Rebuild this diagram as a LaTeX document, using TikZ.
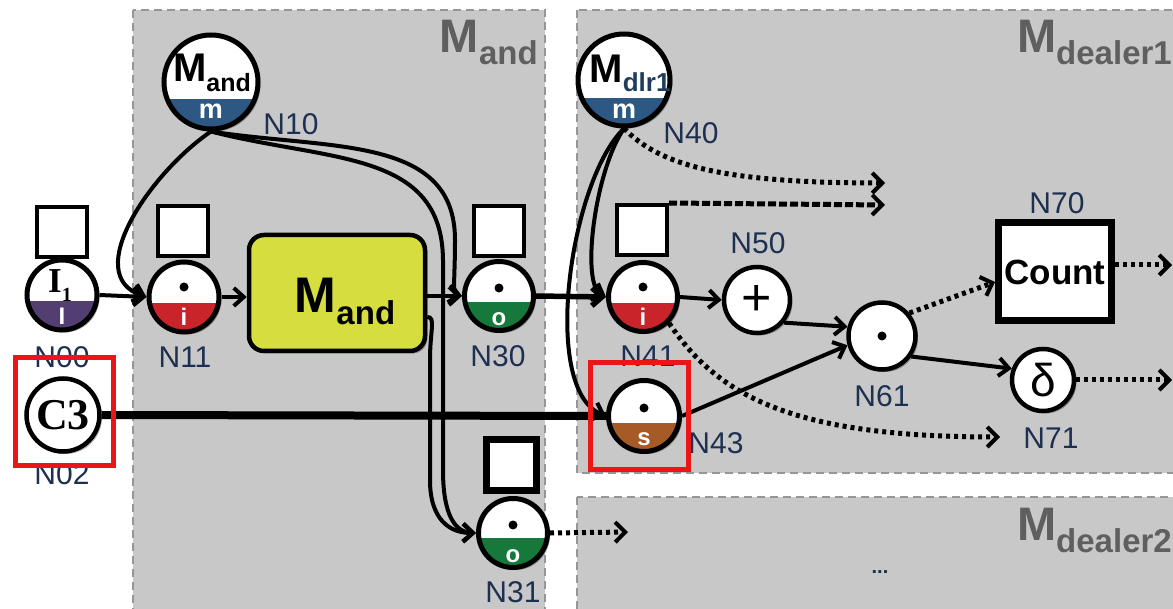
\documentclass[tikz,border=0pt]{standalone}
\usepackage{fontspec}
\setmainfont{Liberation Sans}
\newfontfamily\serifb{Liberation Serif}
\usetikzlibrary{arrows.meta,shadows}
\definecolor{regfill}{RGB}{200,200,200}
\definecolor{regline}{RGB}{150,150,150}
\definecolor{labc}{RGB}{30,48,82}
\definecolor{regtext}{RGB}{95,95,95}
\definecolor{cpurple}{RGB}{82,62,112}
\definecolor{cred}{RGB}{200,36,42}
\definecolor{cblue}{RGB}{46,88,132}
\definecolor{cgreen}{RGB}{22,120,58}
\definecolor{cbrown}{RGB}{166,90,38}
\definecolor{cyellow}{RGB}{213,222,62}
\definecolor{hired}{RGB}{235,20,25}
\newcommand\fs[1]{\fontsize{#1}{#1}\selectfont}
\newcommand\hcirc[7]{%
  \node[hc=#3, path picture={\fill[#4] ([yshift=-#5]path picture bounding box.west) rectangle (path picture bounding box.south east);}] (#1) at #2 {};
  \node[btm] (#1b) at ([yshift=-#7]#1.center) {#6};
}
\tikzset{
  shd/.style={drop shadow={shadow xshift=2.5pt, shadow yshift=-2.5pt, opacity=0.3, fill=black}},
  region/.style={draw=regline, fill=regfill, line width=2pt, dash pattern=on 8pt off 5pt},
  sqbox/.style={draw, line width=4pt, fill=white, minimum size=50pt, inner sep=0pt},
  hc/.style={circle, draw, line width=5pt, fill=white, inner sep=0pt, minimum size=#1, shd},
  wc/.style={circle, draw, line width=4.5pt, fill=white, inner sep=0pt, minimum size=#1, shd},
  btm/.style={text=white, font=\bfseries\fs{24}, inner sep=0pt},
  dotn/.style={circle, fill=black, inner sep=0pt, minimum size=9pt},
  nlab/.style={text=labc, font=\fs{30}, inner sep=0pt},
  reglab/.style={text=regtext, font=\bfseries, inner sep=0pt, anchor=base east},
  conn/.style={line width=4pt, -{Straight Barb[length=10pt,width=18pt]}},
  dotc/.style={line width=5pt, dash pattern=on 4pt off 4pt, -{Straight Barb[length=10pt,width=20pt,line width=4pt]}},
  dashc/.style={line width=5pt, dash pattern=on 8pt off 3pt, -{Straight Barb[length=10pt,width=20pt,line width=4pt]}},
  redbox/.style={draw=hired, line width=5pt},
}
\begin{document}
\begin{tikzpicture}[x=1pt,y=-1pt]
\useasboundingbox[fill=white] (0,0) rectangle (1173,609);
% regions
\path[region] (133,10) rectangle (545,620);
\path[region] (577,10) rectangle (1185,473);
\path[region] (577,497) rectangle (1185,620);
\node[reglab] (Lmand) at (538,53) {\fs{47}M\raisebox{-12pt}{\fs{33}and}};
\node[reglab] (Ld1) at (1172,53) {\fs{47}M\raisebox{-12pt}{\fs{33}dealer1}};
\node[reglab] (Ld2) at (1172,540) {\fs{47}M\raisebox{-12pt}{\fs{33}dealer2}};
\node[text=labc, font=\bfseries\fs{20}, inner sep=0pt] (dots) at (880,572) {...};

% squares
\node[sqbox] (N00s) at (62,232) {};
\node[sqbox] (N11s) at (183,231) {};
\node[sqbox] (N30s) at (499,231) {};
\node[sqbox] (N41s) at (642,230) {};
\node[sqbox, line width=7pt, minimum size=50pt] (N31s) at (511,465) {};

% half circles
\hcirc{N00}{(62,295)}{70pt}{cpurple}{6pt}{\fs{24}I}{21pt}
\hcirc{N11}{(184,297)}{70pt}{cred}{6pt}{i}{20pt}
\hcirc{N10}{(211,82)}{94pt}{cblue}{17pt}{\fs{27}m}{29pt}
\hcirc{N30}{(499,296)}{69pt}{cgreen}{6pt}{o}{23pt}
\hcirc{N31}{(513,533)}{69pt}{cgreen}{5pt}{o}{23pt}
\hcirc{N40}{(624,80)}{92pt}{cblue}{18pt}{\fs{27}m}{31pt}
\hcirc{N41}{(643,297)}{69pt}{cred}{6pt}{i}{20pt}
\hcirc{N43}{(644,416)}{71pt}{cbrown}{7pt}{s}{23pt}

% top contents of half circles
\node[anchor=base west, inner sep=0pt, font=\serifb\bfseries] (N00t) at (48,293) {\fs{35}I\raisebox{-9pt}{\fs{20}1}};
\node[dotn] (N11t) at ([yshift=10pt]N11.center) {};
\node[dotn] (N30t) at ([yshift=8pt]N30.center) {};
\node[dotn] (N31t) at ([yshift=8pt]N31.center) {};
\node[dotn] (N41t) at ([yshift=10pt]N41.center) {};
\node[dotn] (N43t) at ([yshift=8pt]N43.center) {};
\node[anchor=base, inner sep=0pt, font=\bfseries] (N10t) at (212,82) {\fs{40}M\raisebox{-10pt}{\fs{25}and}};
\node[anchor=base, inner sep=0pt, font=\bfseries] (N40t) at (630,83) {\fs{40}M\raisebox{-9pt}{\fs{26}\textcolor{cblue!70!black}{dlr1}}};

% plain circles
\node[wc=73pt, font=\serifb\bfseries\fs{44}] (N02) at (63,415) {C3};
\node[wc=66pt, font=\fs{52}] (N50) at (757,300) {+};
\node[wc=67pt] (N61) at (882,336) {};
\node[dotn] (N61t) at (N61.center) {};
\node[wc=62pt, font=\fs{46}] (N71) at (1043,380) {δ};
\node[draw, line width=7pt, fill=white, minimum width=113pt, minimum height=98pt, inner sep=0pt, font=\bfseries\fs{35}, shd] (N70) at (1055,272) {Count};

% yellow box
\node[draw, line width=4.5pt, rounded corners=15pt, fill=cyellow, minimum width=176pt, minimum height=116pt, shd] (Mand) at (337,293) {};
\node[anchor=base, inner sep=0pt, font=\bfseries] (Mandt) at (345,313) {\fs{50}M\raisebox{-12pt}{\fs{33}and}};

% labels
\node[nlab] (N00l) at (62,357) {N00};
\node[nlab] (N11l) at (185,357) {N11};
\node[nlab] (N10l) at (291,124) {N10};
\node[nlab] (N30l) at (498,356) {N30};
\node[nlab] (N31l) at (513,592) {N31};
\node[nlab] (N40l) at (691,133) {N40};
\node[nlab] (N41l) at (648,356) {N41};
\node[nlab] (N43l) at (716,443) {N43};
\node[nlab] (N50l) at (758,243) {N50};
\node[nlab] (N61l) at (882,396) {N61};
\node[nlab] (N70l) at (1057,203) {N70};
\node[nlab] (N71l) at (1051,438) {N71};
\node[nlab] (N02l) at (62,474) {N02};

% free ends
\coordinate (e40) at (885,183);
\coordinate (e41s) at (885,205);
\coordinate (e41) at (1000,437);
\coordinate (e70) at (1172,265);
\coordinate (e71) at (1172,380);
\coordinate (e31) at (628,532);

% solid connectors
\draw[conn] (N00.east) -- (N11.west);
\draw[conn] (N11.east) -- (N11.east -| Mand.west);
\draw[conn] (Mand.east |- N30.west) -- (N30.west);
\draw[conn, line width=5.5pt] (N30.east) -- (N41.west);
\draw[conn] (N41.east) -- (N50.west);
\draw[conn] (N50.-40) -- (N61.165);
\draw[conn] (N43.east) -- (N61.195);
\draw[conn] (N61.-35) -- (N71.160);
\draw[line width=8pt] (N02.east) -- (N43.west);
\draw[conn] (N10.south) .. controls (151,172) and (80,275) .. (N11.west);
\draw[conn] (N10.south) .. controls (330,150) and (455,135) .. (455,240) .. controls (455,280) and (452,294) .. (N30.west);
\draw[conn] (N10.south) .. controls (330,162) and (442,150) .. (443,260) -- (443,470) .. controls (443,515) and (455,532) .. (N31.west);
\draw[conn] ([yshift=-24pt]Mand.east) .. controls (436,317) and (430,330) .. (430,360) -- (430,480) .. controls (430,520) and (450,533) .. (N31.west);
\draw[conn] (N40.south) .. controls (595,170) and (580,285) .. (N41.west);
\draw[conn] (N40.south) .. controls (570,180) and (540,390) .. (N43.west);

% dotted connectors
\draw[dotc] (N40.south) .. controls (660,165) and (720,183) .. (e40);
\draw[dashc] (N41s.north east) -- (e41s);
\draw[dotc] (N41.-45) .. controls (720,400) and (800,437) .. (e41);
\draw[dotc] (N61.40) -- ([yshift=-10pt]N70.west);
\draw[dotc] (N70.east |- e70) -- (e70);
\draw[dotc] (N71.east) -- (e71);
\draw[dotc] (N31.east) -- (e31);

% highlight boxes
\draw[redbox] (15,358) rectangle (113,465);
\draw[redbox] (590,363) rectangle (688,469);
\end{tikzpicture}
\end{document}
